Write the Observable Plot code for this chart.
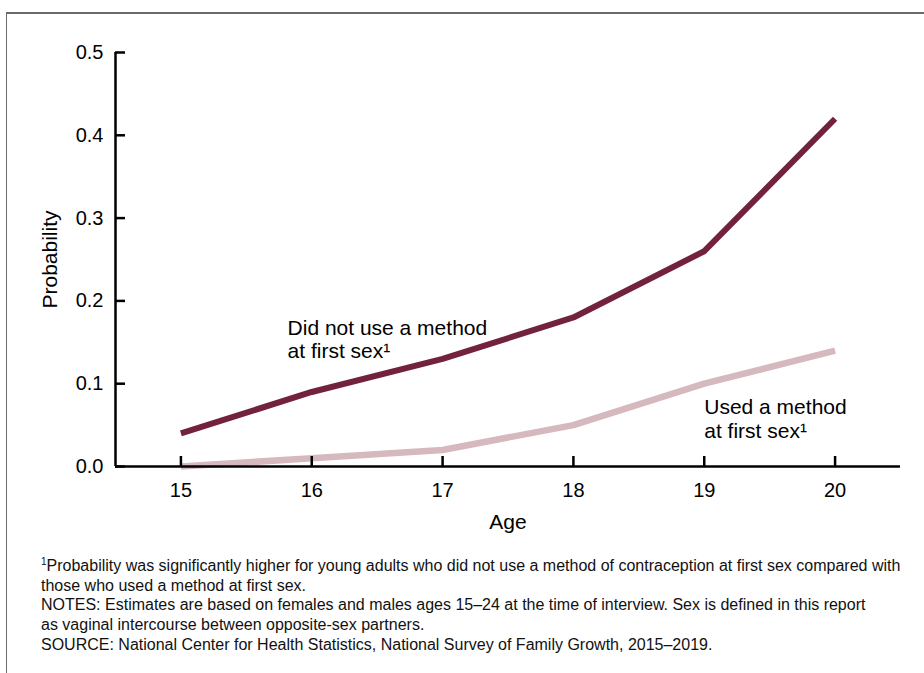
<!DOCTYPE html>
<html><head><meta charset="utf-8">
<script src="https://cdn.jsdelivr.net/npm/d3@7"></script>
<script src="https://cdn.jsdelivr.net/npm/@observablehq/plot@0.6"></script>
<style>
body{margin:0;background:#fff;font-family:"Liberation Sans",Arial,sans-serif;}
#frame{position:absolute;left:6px;top:12px;width:940px;height:700px;border-top:2px solid #6b6b6b;border-left:1px solid #6b6b6b;}
#chart{position:absolute;left:0;top:0;}
#notes{position:absolute;left:41px;top:556px;font-family:"Liberation Sans Narrow","Liberation Sans",Arial,sans-serif;font-size:16px;line-height:19.7px;color:#111;white-space:nowrap;}
#notes sup{font-size:10px;vertical-align:top;line-height:10px;position:relative;top:1px;}
</style></head>
<body><div id="frame"></div><div id="chart"></div>
<div id="notes"><sup>1</sup>Probability was significantly higher for young adults who did not use a method of contraception at first sex compared with<br>those who used a method at first sex.<br>NOTES: Estimates are based on females and males ages 15–24 at the time of interview. Sex is defined in this report<br>as vaginal intercourse between opposite-sex partners.<br>SOURCE: National Center for Health Statistics, National Survey of Family Growth, 2015–2019.</div>
<script>
const ages = [15, 16, 17, 18, 19, 20];
const noMethod = [0.04, 0.09, 0.13, 0.18, 0.26, 0.42];
const usedMethod = [0.00, 0.01, 0.02, 0.05, 0.10, 0.14];
const yTicks = [0, 0.1, 0.2, 0.3, 0.4, 0.5];
const xLabel = "Age";
const yLabel = "Probability";
const noMethodLabel = "Did not use a method\nat first sex¹";
const usedMethodLabel = "Used a method\nat first sex¹";

const noData = ages.map((a, i) => ({age: a, p: noMethod[i]}));
const usedData = ages.map((a, i) => ({age: a, p: usedMethod[i]}));

const chart = Plot.plot({
  width: 924,
  height: 545,
  marginLeft: 115,
  marginRight: 24,
  marginTop: 52,
  marginBottom: 79,
  x: {domain: [14.5, 20.5]},
  y: {domain: [0, 0.5]},
  style: {fontFamily: "'Liberation Sans', Arial, sans-serif", fontSize: "20px", color: "#000", background: "transparent"},
  marks: [
    Plot.lineY(usedData, {x: "age", y: "p", stroke: "#d6b9bf", strokeWidth: 6.5, strokeLinecap: "butt", strokeLinejoin: "miter"}),
    Plot.lineY(noData, {x: "age", y: "p", stroke: "#72213f", strokeWidth: 6, strokeLinecap: "butt", strokeLinejoin: "miter"}),
    Plot.ruleY([0], {stroke: "#000", strokeWidth: 2.5}),
    Plot.ruleX([14.5], {y1: 0, y2: 0.5, stroke: "#000", strokeWidth: 2.5}),
    Plot.ruleX(ages, {x: d => d, y1: 0, y2: 0, insetTop: -10, stroke: "#000", strokeWidth: 2.5}),
    Plot.ruleY(yTicks, {y: d => d, x1: 14.5, x2: 14.5, insetRight: -10, stroke: "#000", strokeWidth: 2.5}),
    Plot.axisX(ages, {tickSize: 0, tickPadding: 16, label: null, fontSize: 20, tickFormat: d => String(d)}),
    Plot.axisY(yTicks, {tickSize: 0, tickPadding: 12, label: null, fontSize: 20, tickFormat: d => d.toFixed(1)}),
    Plot.text([xLabel], {frameAnchor: "bottom", dy: 56, fontSize: 21, lineAnchor: "middle"}),
    Plot.text([yLabel], {frameAnchor: "left", dx: -65, rotate: -90, fontSize: 21, textAnchor: "middle", lineAnchor: "middle"}),
    Plot.text([noMethodLabel], {x: 15.815, y: 0.154, textAnchor: "start", lineAnchor: "middle", fontSize: 21, lineHeight: 1.12}),
    Plot.text([usedMethodLabel], {x: 19.0, y: 0.058, textAnchor: "start", lineAnchor: "middle", fontSize: 21, lineHeight: 1.12})
  ]
});
document.getElementById("chart").appendChild(chart);
</script>
</body></html>
